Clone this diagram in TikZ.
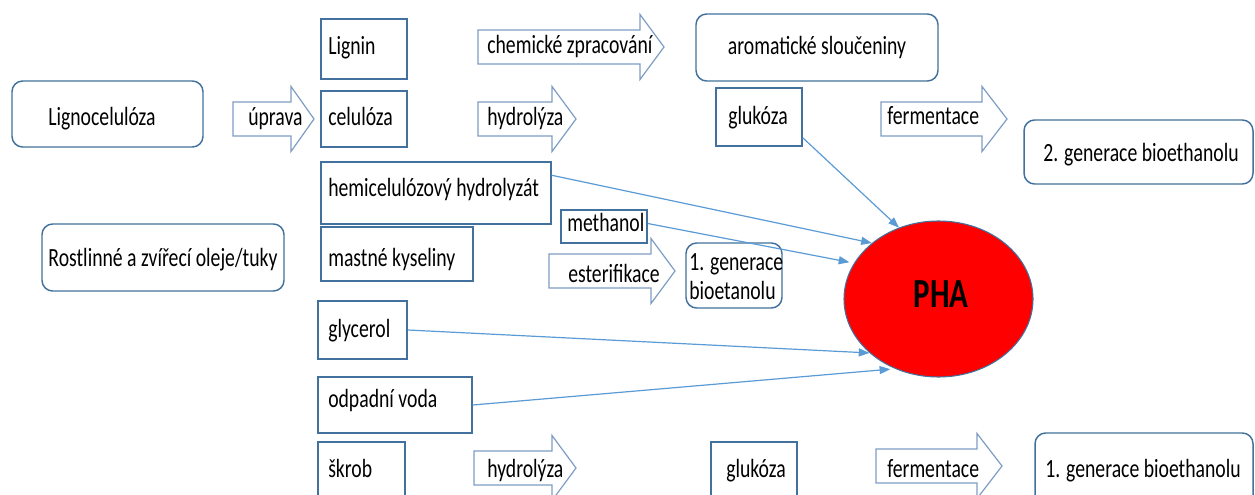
\documentclass[tikz,border=0pt]{standalone}
\usepackage{fontspec}
\setmainfont{Carlito}[FakeStretch=0.75]
\usetikzlibrary{arrows.meta,calc,fit,shapes.geometric}
\definecolor{boxblue}{HTML}{41719C}
\definecolor{arrblue}{HTML}{7F9DC4}
\definecolor{conblue}{HTML}{5B9BD5}
\tikzset{
  box/.style={draw=boxblue, line width=1.1pt, inner sep=0pt},
  rbox/.style={box, rounded corners=8pt},
  txt/.style={inner sep=0pt, font=\fontsize{19.7}{22}\selectfont},
  blk/.style={draw=arrblue, line width=0.9pt, fill=white, line join=miter},
  con/.style={draw=conblue, line width=0.9pt, -{Triangle[length=8pt,width=6pt]}},
}
\newcommand\blkarrow[4]{%
  \draw[blk] (#1,{#4-17}) -- (#2,{#4-17}) -- (#2,{#4-32.5}) -- (#3,#4) -- (#2,{#4+32.5}) -- (#2,{#4+17}) -- (#1,{#4+17}) -- cycle;}
\begin{document}
\begin{tikzpicture}[x=0.75pt,y=-0.75pt]
\useasboundingbox (0,0) rectangle (1255,495);
\fill[white] (0,0) rectangle (1255,495);

% rectangular boxes
\node[box, fit={(321,19) (407,79)}] (lignin) {};
\node[txt, anchor=base west] (ligninT) at (328,55) {Lignin};
\node[box, fit={(321,91) (407,147)}] (celuloza) {};
\node[txt, anchor=base west] (celulozaT) at (328,126) {celulóza};
\node[box, fit={(321,162) (551,224)}] (hemi) {};
\node[txt, anchor=base west] (hemiT) at (328,197) {hemicelulózový hydrolyzát};
\node[box, fit={(321,227) (473,281)}] (mastne) {};
\node[txt, anchor=base west] (mastneT) at (328,266) {mastné kyseliny};
\node[box, fit={(318,301) (407,359)}] (glycerol) {};
\node[txt, anchor=base west] (glycerolT) at (328,337) {glycerol};
\node[box, fit={(318,377) (472,433)}] (odpadni) {};
\node[txt, anchor=base west] (odpadniT) at (328,407) {odpadní voda};
\node[box, fit={(318,442) (405,515)}] (skrob) {};
\node[txt, anchor=base west] (skrobT) at (328,477) {škrob};
\node[box, fit={(716,88) (802,146)}] (glukoza1) {};
\node[txt, anchor=base] (glukoza1T) at (758,125) {glukóza};
\node[box, fit={(711,442) (797,515)}] (glukoza2) {};
\node[txt, anchor=base] (glukoza2T) at (756,477) {glukóza};
\node[box, fit={(561,210) (647,243)}] (methanol) {};
\node[txt, anchor=base west] (methanolT) at (567,232) {methanol};

% rounded boxes
\node[rbox, fit={(12,81) (203,147)}] (lignocel) {};
\node[txt, anchor=base] (lignocelT) at (102,126) {Lignocelulóza};
\node[rbox, fit={(42,224) (284,291)}] (rostlinne) {};
\node[txt, anchor=base] (rostlinneT) at (163,267) {Rostlinné a zvířecí oleje/tuky};
\node[rbox, fit={(696,14) (938,81)}] (aromat) {};
\node[txt, anchor=base] (aromatT) at (817,55) {aromatické sloučeniny};
\node[rbox, fit={(1024,120) (1253,184)}] (gen2) {};
\node[txt, anchor=base] (gen2T) at (1141,162) {2. generace bioethanolu};
\node[rbox, fit={(686,243) (782,308)}] (gen1a) {};
\node[txt, anchor=base west] (gen1aT) at (689,270) {1. generace};
\node[txt, anchor=base west] (gen1aT2) at (689,299) {bioetanolu};
\node[rbox, fit={(1035,433) (1253,515)}] (gen1b) {};
\node[txt, anchor=base] (gen1bT) at (1143,477) {1. generace bioethanolu};

% block arrows
\blkarrow{233}{291}{314}{119}
\node[txt, anchor=base west] (uprava) at (248,126) {úprava};
\blkarrow{478}{640}{664}{47}
\node[txt, anchor=base west] (chem) at (487,54) {chemické zpracování};
\blkarrow{478}{552}{576}{119}
\node[txt, anchor=base west] (hydro1) at (487,126) {hydrolýza};
\blkarrow{881}{982}{1007}{119}
\node[txt, anchor=base west] (ferm1) at (887,125) {fermentace};
\blkarrow{549}{651}{675}{271}
\node[txt, anchor=base west] (ester) at (568,282) {esterifikace};
\blkarrow{474}{552}{576}{468}
\node[txt, anchor=base west] (hydro2) at (487,477) {hydrolýza};
\blkarrow{876}{977}{1002}{466}
\node[txt, anchor=base west] (ferm2) at (887,477) {fermentace};

% PHA
\node[ellipse, draw=boxblue, fill=red, line width=0.8pt, minimum width=141.75pt, minimum height=117pt, inner sep=0pt] (pha) at (938.5,299) {};
\node[inner sep=0pt, anchor=base, font=\fontsize{31}{34}\selectfont\bfseries] (phaT) at (941,307) {PHA};

% connectors
\draw[con] ($(glukoza1.south east)+(0,-9)$) -- (pha.119);
\draw[con] ($(hemi.north east)+(0,14)$) -- (pha.140);
\draw[con, shorten >=3.5pt] ($(methanol.east)+(0,-3)$) -- (pha.157);
\draw[con] (glycerol.east) -- (pha.218);
\draw[con, shorten >=3.5pt] (odpadni.east) -- (pha.238);
\end{tikzpicture}
\end{document}
